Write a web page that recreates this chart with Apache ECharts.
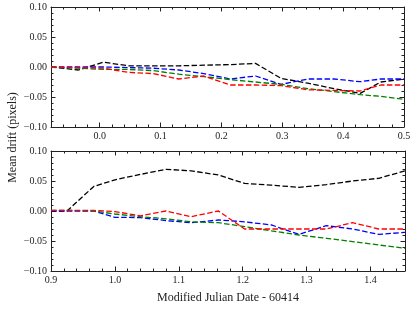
<!DOCTYPE html>
<html>
<head>
<meta charset="utf-8">
<script src="https://cdn.jsdelivr.net/npm/echarts@6/dist/echarts.min.js"></script>
<style>
html,body{margin:0;padding:0;background:#fff;}
#c{width:415px;height:309px;}
</style>
</head>
<body>
<div id="c"></div>
<script>
// ---- data ----
const topX = [-0.08, -0.035, 0.006, 0.047, 0.088, 0.13, 0.171, 0.215, 0.256, 0.298, 0.342, 0.385, 0.428, 0.462, 0.5];
const topBlack = [0, -0.005, 0.008, 0.002, 0.002, 0.002, 0.003, 0.004, 0.006, -0.019, -0.027, -0.036, -0.044, -0.025, -0.02];
const topBlue  = [0, 0, 0, -0.001, -0.002, -0.005, -0.011, -0.020, -0.015, -0.029, -0.020, -0.020, -0.0245, -0.020, -0.020];
const topGreen = [0, -0.002, -0.004, -0.004, -0.006, -0.012, -0.016, -0.021, -0.025, -0.029, -0.036, -0.041, -0.046, -0.049, -0.054];
const topRed   = [0, -0.001, -0.002, -0.009, -0.011, -0.020, -0.015, -0.030, -0.030, -0.031, -0.038, -0.039, -0.040, -0.030, -0.030];

const botX = [0.9, 0.925, 0.967, 1.0, 1.04, 1.08, 1.119, 1.162, 1.203, 1.245, 1.288, 1.331, 1.372, 1.413, 1.454];
const botBlack = [0, 0, 0.041, 0.052, 0.061, 0.0695, 0.067, 0.060, 0.046, 0.043, 0.0395, 0.044, 0.050, 0.0545, 0.067];
const botBlue  = [0, 0, 0, -0.0105, -0.011, -0.016, -0.0195, -0.015, -0.018, -0.0233, -0.039, -0.0245, -0.030, -0.039, -0.0355];
const botGreen = [0.001, 0.001, 0, -0.005, -0.0095, -0.013, -0.018, -0.0195, -0.026, -0.033, -0.040, -0.0455, -0.051, -0.0567, -0.062];
const botRed   = [0.001, 0.001, 0.001, -0.001, -0.008, 0.0, -0.0095, 0.0, -0.030, -0.030, -0.030, -0.030, -0.0195, -0.030, -0.030];

const topTicks = [0.0, 0.1, 0.2, 0.3, 0.4, 0.5];
const botTicks = [0.9, 1.0, 1.1, 1.2, 1.3, 1.4];
const xLabel = 'Modified Julian Date - 60414';
const yLabel = 'Mean drift (pixels)';

// ---- styling / layout ----
const FONT = '"Liberation Serif", "DejaVu Serif", serif';
const AX = '#222';
const colors = {black:'#000000', blue:'#0000ff', green:'#008000', red:'#ff0000'};

function minorList(lo, hi, majors){
  const out = [];
  for (let k = Math.ceil(lo/0.02 - 1e-9); k*0.02 <= hi + 1e-9; k++){
    const v = +(k*0.02).toFixed(4);
    if (!majors.some(m => Math.abs(m - v) < 1e-6)) out.push(v);
  }
  return out;
}
const topRange = [-0.08, 0.5];
const botRange = [0.9, 1.454];

function xAxes(grid, range, majors){
  const minors = minorList(range[0], range[1], majors);
  const base = {type:'value', gridIndex:grid, min:range[0], max:range[1], splitLine:{show:false}};
  return [
    Object.assign({}, base, {position:'bottom',
      axisLine:{show:true, onZero:false, lineStyle:{color:AX, width:1}},
      axisTick:{show:true, inside:true, length:4.5, customValues:majors, lineStyle:{color:AX}},
      axisLabel:{show:true, margin:4, customValues:majors, color:'#222', fontFamily:FONT, fontSize:10,
                 formatter:v => v.toFixed(1)}}),
    Object.assign({}, base, {position:'bottom',
      axisLine:{show:false, onZero:false},
      axisTick:{show:true, inside:true, length:2.5, customValues:minors, lineStyle:{color:AX}},
      axisLabel:{show:false}}),
    Object.assign({}, base, {position:'top',
      axisLine:{show:true, onZero:false, lineStyle:{color:AX, width:1}},
      axisTick:{show:true, inside:true, length:4.5, customValues:majors, lineStyle:{color:AX}},
      axisLabel:{show:false}}),
    Object.assign({}, base, {position:'top',
      axisLine:{show:false, onZero:false},
      axisTick:{show:true, inside:true, length:2.5, customValues:minors, lineStyle:{color:AX}},
      axisLabel:{show:false}})
  ];
}
function yAxes(grid){
  const base = {type:'value', gridIndex:grid, min:-0.1, max:0.1, interval:0.05, splitLine:{show:false},
    axisLine:{show:true, onZero:false, lineStyle:{color:AX, width:1}},
    axisTick:{show:true, inside:true, length:4.5, lineStyle:{color:AX}},
    minorTick:{show:true, splitNumber:5, length:2.5, lineStyle:{color:AX}}};
  return [
    Object.assign({}, base, {position:'left',
      axisLabel:{show:true, margin:4, color:'#222', fontFamily:FONT, fontSize:10,
        formatter:v => (v < -1e-9 ? '\u2212' : '') + Math.abs(v).toFixed(2)}}),
    Object.assign({}, base, {position:'right', axisLabel:{show:false}})
  ];
}

const xa = xAxes(0, topRange, topTicks).concat(xAxes(1, botRange, botTicks));
// x-axis name on the bottom panel's main axis
xa[4].name = xLabel;
xa[4].nameLocation = 'middle';
xa[4].nameGap = 21;
xa[4].nameTextStyle = {fontFamily:FONT, fontSize:12, color:'#222'};

const ya = yAxes(0).concat(yAxes(1));

function zip(xs, ys){ return xs.map((x,i) => [x, ys[i]]); }
function line(xs, ys, color, xi, yi){
  return {type:'line', xAxisIndex:xi, yAxisIndex:yi, data:zip(xs, ys), showSymbol:false, symbol:'none',
    silent:true, animation:false, clip:true,
    lineStyle:{color:color, width:1.3, type:[5.5, 2.4]}};
}

const series = [
  line(topX, topBlack, colors.black, 0, 0),
  line(topX, topBlue,  colors.blue,  0, 0),
  line(topX, topGreen, colors.green, 0, 0),
  line(topX, topRed,   colors.red,   0, 0),
  line(botX, botBlack, colors.black, 4, 2),
  line(botX, botBlue,  colors.blue,  4, 2),
  line(botX, botGreen, colors.green, 4, 2),
  line(botX, botRed,   colors.red,   4, 2)
];

const chart = echarts.init(document.getElementById('c'), null, {renderer:'canvas'});
chart.setOption({
  animation:false,
  backgroundColor:'#fff',
  grid:[
    {left:51, top:7, width:353, height:120},
    {left:51, top:151, width:354, height:120}
  ],
  xAxis: xa,
  yAxis: ya,
  series: series,
  graphic:[{
    type:'text', x:13, y:137.5, rotation:Math.PI/2,
    style:{text:yLabel, fontFamily:FONT, fontSize:12, fill:'#222', align:'center', verticalAlign:'middle'}
  }]
});
</script>
</body>
</html>
